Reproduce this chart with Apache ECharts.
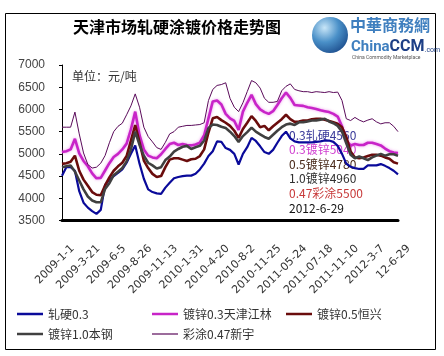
<!DOCTYPE html>
<html><head><meta charset="utf-8">
<script src="https://cdn.jsdelivr.net/npm/echarts@6/dist/echarts.min.js"></script>
<style>html,body{margin:0;padding:0;background:#fff;}#c{width:444px;height:356px;}</style>
</head><body><div id="c"></div>
<script>
// ---- data ----
const tickLabels = ['2009-1-1','2009-3-21','2009-6-5','2009-8-26','2009-11-13','2010-1-31','2010-4-20','2010-8-2','2010-11-25','2011-05-24','2011-07-18','2011-11-10','2012-3-7','12-6-29'];
const pointsPerTick = 6;
const seriesNames = ['轧硬0.3','镀锌0.3天津江林','镀锌0.5恒兴','镀锌1.0本钢','彩涂0.47新宇'];
const rolled03 = [4510,4700,4700,4620,4160,3900,3790,3710,3650,3740,4300,4420,4500,4570,4650,4800,5000,5190,4780,4440,4200,4140,4110,4100,4240,4350,4450,
  4480,4500,4510,4510,4550,4650,4780,4950,5060,5280,5270,5130,5090,5000,4760,5000,5150,5360,5290,5170,5040,5000,5090,5250,5400,5500,5350,
  5280,5260,5260,5260,5260,5270,5280,5300,5300,5270,5180,5000,4780,4710,4680,4660,4660,4740,4740,4740,4770,4730,4680,4620,4540];
const galv03 = [5040,5060,5100,5340,5010,4840,4720,4560,4450,4460,4625,4790,4930,5000,5100,5230,5550,5950,5420,5100,4960,4920,4900,4990,5110,5220,5250,
  5200,5220,5200,5190,5210,5250,5420,5800,6180,6200,6110,5900,5800,5740,5540,5950,6150,6330,6120,6000,5940,5900,5960,6100,6250,6380,6260,
  6100,6090,6080,6050,6030,6010,5980,5960,5940,5900,5840,5620,5300,5190,5220,5200,5200,5250,5250,5220,5190,5120,5060,5030,5020];
const galv05 = [4775,4790,4820,4960,4620,4420,4280,4140,4080,4070,4290,4470,4620,4720,4800,4950,5300,5650,5260,4850,4680,4550,4480,4500,4700,4870,4900,
  4900,4870,4840,4880,4890,4950,5100,5480,5800,5830,5760,5700,5630,5520,5360,5560,5700,5850,5740,5600,5630,5530,5620,5700,5780,5880,5780,
  5720,5730,5750,5750,5780,5790,5790,5770,5740,5710,5680,5600,5380,5050,4920,4900,4920,4950,4980,4980,4960,4920,4890,4810,4780];
const galv10 = [4700,4720,4740,4600,4400,4200,4040,3950,3910,3910,4210,4340,4520,4600,4680,4830,5100,5500,5200,4960,4800,4740,4670,4700,4860,4940,5050,
  5110,5160,5180,5110,5150,5180,5300,5580,5660,5650,5610,5580,5500,5400,5270,5400,5490,5590,5500,5440,5380,5340,5430,5520,5600,5660,5680,
  5650,5710,5710,5730,5750,5750,5770,5790,5730,5690,5630,5500,5240,4980,4900,4940,4900,4860,4920,4960,5000,4960,4990,4990,4960];
const coated047 = [5600,5600,5600,5940,5450,5020,4760,4680,4700,4790,4960,5250,5500,5620,5690,5880,6080,6350,6050,5600,5390,5270,5140,5100,5260,5450,5500,
  5600,5620,5640,5640,5650,5660,5700,6200,6450,6540,6560,6600,6250,6050,5950,6150,6400,6650,6600,6480,6250,6160,6160,6180,6420,6520,6575,
  6450,6420,6400,6400,6380,6400,6390,6380,6400,6380,6390,6200,5790,5750,5820,5760,5720,5760,5790,5720,5675,5700,5700,5620,5500];
const yTicks = {min:3500, max:7000, interval:500};
const noteLines = ['0.3轧硬4560','0.3镀锌5040','0.5镀锌4780','1.0镀锌4960','0.47彩涂5500','2012-6-29'];
const unitText = '单位：元/吨';
const titleText = '天津市场轧硬涂镀价格走势图';

// ---- chart ----
const categories = rolled03.map((_, i) => String(i));
const colors = ['#0a0a9a','#c824c8','#6a0c0c','#404040','#5a0a5a'];
const widths = [2.2,2.6,2.6,2.6,1];
const allData = [rolled03, galv03, galv05, galv10, coated047];
const font = '"Noto Sans CJK SC","Noto Sans",sans-serif';

const series = allData.map((d, k) => ({
  name: seriesNames[k], type: 'line', data: d, symbol: 'none', z: 3 + k,
  lineStyle: Object.assign({color: colors[k], width: widths[k]},
    k === 1 ? {shadowColor:'rgba(235,140,235,0.9)', shadowBlur:3} : {}),
  itemStyle: {color: colors[k]}
}));

const legendPos = [[17,308],[152,308],[286,308],[17,328],[152,328]];
const legends = seriesNames.map((n, k) => ({
  data: [n], left: legendPos[k][0], top: legendPos[k][1], icon: 'rect', padding: 0,
  itemWidth: 26, itemHeight: k === 4 ? 1.2 : 2.5, itemGap: 4,
  textStyle: {fontSize: 12, color: '#333', fontFamily: font},
  selectedMode: false
}));

const noteColors = ['#3a3a9a','#d040d0','#4a2a1a','#303030','#c83a3a','#111'];
const graphics = [
  {type:'rect', shape:{x:5.5,y:13.5,width:430,height:336}, style:{fill:null, stroke:'#000', lineWidth:1}, z:-1, silent:true},
  {type:'text', left:73, top:19, style:{text:titleText, fontSize:16, fontWeight:'bold', fill:'#000', fontFamily:font}, z:50},
  {type:'text', left:72, top:70, style:{text:unitText, fontSize:12, fill:'#333', fontFamily:font}, z:50},
  // logo
  {type:'circle', shape:{cx:330, cy:35, r:18}, style:{fill:{type:'radial', x:0.35, y:0.3, r:0.8, colorStops:[{offset:0,color:'#c8e6f8'},{offset:0.5,color:'#4a90c8'},{offset:1,color:'#1a4a8a'}]}}, z:50},
  {type:'text', left:350, top:17, style:{text:'中華商務網', fontSize:16, fontWeight:'bold', fill:'#3f7fbf', fontFamily:font}, z:50},
  {type:'text', left:351, top:39, style:{text:'{a|China}{b|CCM}{c|.com}', rich:{a:{fontSize:15, fill:'#3f7fbf', fontFamily:'"Liberation Sans Narrow",Roboto,sans-serif', fontWeight:'bold'}, b:{fontSize:16, fill:'#1d3f86', fontWeight:'bold', fontFamily:'Roboto,sans-serif'}, c:{fontSize:7, fill:'#1d3f86', fontFamily:'Roboto,sans-serif', padding:[6,0,0,0]}}}, z:50},
  {type:'text', left:352, top:55, style:{text:'China Commodity Marketplace', fontSize:5, fill:'#555', fontFamily:'Roboto,sans-serif'}, z:50}
];
noteLines.forEach((t, k) => graphics.push({
  type:'text', left:289, top:129 + k*14.6, z:0,
  style:{text:t, fontSize:12, fill:noteColors[k], fontFamily:font}
}));

const chart = echarts.init(document.getElementById('c'), null, {renderer:'canvas'});
chart.setOption({
  animation: false,
  backgroundColor: '#fff',
  grid: {left:62, top:65, width:336, height:155.5, containLabel:false},
  xAxis: {
    type:'category', data: categories, boundaryGap:false,
    axisLine:{lineStyle:{color:'#000', width:3}},
    axisTick:{show:false},
    axisLabel:{interval: pointsPerTick - 1, rotate:45, margin:37, fontSize:11, color:'#333',
      fontFamily:'"DejaVu Sans",sans-serif', padding:[0,-15,0,0],
      formatter:(v, idx) => idx % pointsPerTick === 0 ? tickLabels[idx / pointsPerTick] : ''},
    splitLine:{show:false}
  },
  yAxis: {
    type:'value', min:yTicks.min, max:yTicks.max, interval:yTicks.interval,
    axisLine:{show:true, lineStyle:{color:'#000', width:1}},
    axisTick:{show:true, length:3, lineStyle:{color:'#000'}},
    axisLabel:{margin:17, fontSize:12, color:'#444', fontFamily:'"Liberation Sans",Arial,sans-serif',
      formatter: v => String(v)},
    splitLine:{show:false}
  },
  legend: legends,
  graphic: graphics,
  series: series
});
</script></body></html>
